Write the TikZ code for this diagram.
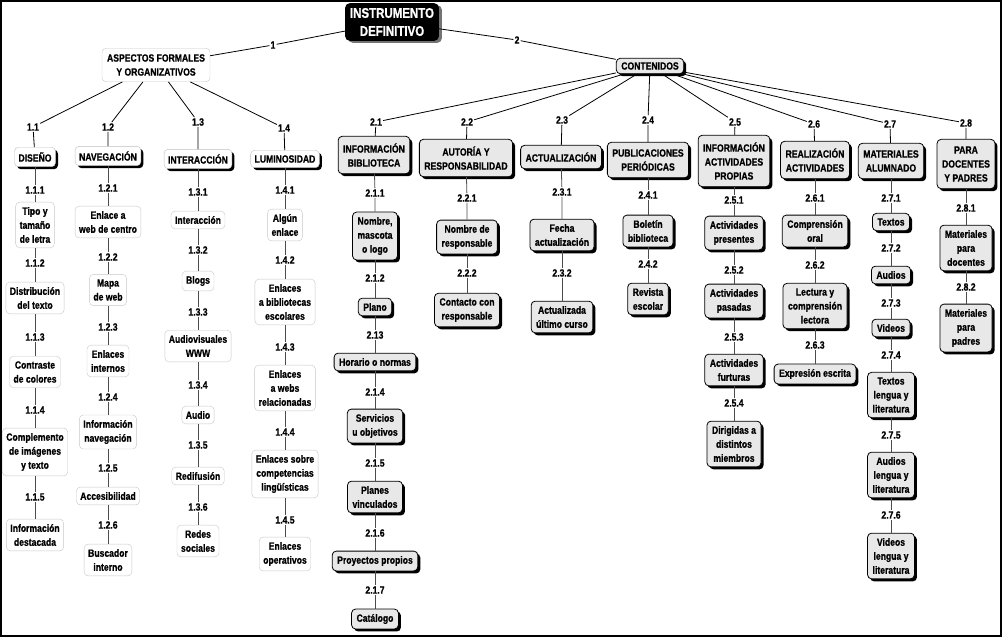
\documentclass[tikz,border=0pt]{standalone}
\usepackage{fontspec}
\newfontfamily\mapfont{Liberation Sans}[FakeStretch=0.82, BoldFeatures={FakeBold=0.8}]
\usepackage{tikz}
\usetikzlibrary{shadows}

\newcommand{\boxfont}{\mapfont\bfseries\fontsize{10.5}{14}\selectfont}
\newcommand{\rootfont}{\mapfont\bfseries\fontsize{14}{18}\selectfont}

\tikzset{
  lab/.style={inner sep=1pt, font=\boxfont},
  ln/.style={draw=black, line width=0.8pt},
  lnv/.style={draw=black!70, line width=0.8pt},
  rootbox/.style={fill=black, text=white, rounded corners=5pt, align=center,
    inner xsep=5pt, inner ysep=5pt, font=\rootfont,
    drop shadow={shadow xshift=3pt, shadow yshift=-2pt, fill=black!55, opacity=1}},
  leaf/.style={draw=black!22, fill=white, rounded corners=4pt, align=center,
    inner xsep=4pt, inner ysep=5pt, font=\boxfont},
  headbox/.style={leaf, draw=black!25,
    drop shadow={shadow xshift=2.5pt, shadow yshift=-2.5pt, fill=black, opacity=1}},
  gbox/.style={draw=black, line width=0.8pt, fill=black!9, rounded corners=4pt,
    align=center, inner xsep=5pt, inner ysep=5pt, font=\boxfont,
    drop shadow={shadow xshift=2.5pt, shadow yshift=-2.5pt, fill=black, opacity=1}},
  ghead/.style={gbox, inner ysep=7pt}
}

\begin{document}
\begin{tikzpicture}[x=1pt, y=-1pt]
\useasboundingbox (0,0) rectangle (1006,638);
\draw[line width=1.4pt] (1,1) rectangle (1001,636);

% top
\node[rootbox] (root) at (392,22) {INSTRUMENTO\\DEFINITIVO};
\node[leaf, inner ysep=6pt, inner xsep=5pt] (asp) at (156,65) {ASPECTOS FORMALES\\Y ORGANIZATIVOS};
\node[gbox, inner ysep=4pt] (cont) at (650,66) {CONTENIDOS};
\node[lab] (k1) at (273,45) {1};
\node[lab] (k2) at (517,40) {2};

% aspectos formales
\node[lab] (k11) at (33,127) {1.1};
\node[lab] (k12) at (108,127) {1.2};
\node[lab] (k13) at (198,122) {1.3};
\node[lab] (k14) at (284,128) {1.4};
\node[headbox] (dis) at (35,157) {DISEÑO};
\node[headbox] (nav) at (108,156) {NAVEGACIÓN};
\node[headbox] (int) at (198,159) {INTERACCIÓN};
\node[headbox] (lum) at (285,159) {LUMINOSIDAD};

\node[lab] (k111) at (35,190) {1.1.1};
\node[leaf] (d1) at (35,225) {Tipo y\\tamaño\\de letra};
\node[lab] (k112) at (35,263) {1.1.2};
\node[leaf] (d2) at (35,298) {Distribución\\del texto};
\node[lab] (k113) at (35,337) {1.1.3};
\node[leaf] (d3) at (35,372) {Contraste\\de colores};
\node[lab] (k114) at (35,410) {1.1.4};
\node[leaf] (d4) at (35,452) {Complemento\\de imágenes\\y texto};
\node[lab] (k115) at (35,497) {1.1.5};
\node[leaf] (d5) at (35,535) {Información\\destacada};

\node[lab] (k121) at (108,188) {1.2.1};
\node[leaf] (n1) at (108,222) {Enlace a\\web de centro};
\node[lab] (k122) at (108,257) {1.2.2};
\node[leaf] (n2) at (108,290) {Mapa\\de web};
\node[lab] (k123) at (108,327) {1.2.3};
\node[leaf] (n3) at (108,361) {Enlaces\\internos};
\node[lab] (k124) at (108,397) {1.2.4};
\node[leaf] (n4) at (108,432) {Información\\navegación};
\node[lab] (k125) at (108,468) {1.2.5};
\node[leaf] (n5) at (108,496) {Accesibilidad};
\node[lab] (k126) at (108,525) {1.2.6};
\node[leaf] (n6) at (108,560) {Buscador\\interno};

\node[lab] (k131) at (198,192) {1.3.1};
\node[leaf] (i1) at (198,220) {Interacción};
\node[lab] (k132) at (198,250) {1.3.2};
\node[leaf] (i2) at (198,281) {Blogs};
\node[lab] (k133) at (198,312) {1.3.3};
\node[leaf] (i3) at (198,346) {Audiovisuales\\WWW};
\node[lab] (k134) at (198,385) {1.3.4};
\node[leaf] (i4) at (198,415) {Audio};
\node[lab] (k135) at (198,445) {1.3.5};
\node[leaf] (i5) at (198,476) {Redifusión};
\node[lab] (k136) at (198,507) {1.3.6};
\node[leaf] (i6) at (198,541) {Redes\\sociales};

\node[lab] (k141) at (285,190) {1.4.1};
\node[leaf] (u1) at (285,225) {Algún\\enlace};
\node[lab] (k142) at (285,260) {1.4.2};
\node[leaf] (u2) at (285,302) {Enlaces\\a bibliotecas\\escolares};
\node[lab] (k143) at (285,347) {1.4.3};
\node[leaf] (u3) at (285,388) {Enlaces\\a webs\\relacionadas};
\node[lab] (k144) at (285,432) {1.4.4};
\node[leaf] (u4) at (285,474) {Enlaces sobre\\competencias\\lingüísticas};
\node[lab] (k145) at (285,520) {1.4.5};
\node[leaf] (u5) at (285,554) {Enlaces\\operativos};

% contenidos
\node[lab] (k21) at (376,122) {2.1};
\node[lab] (k22) at (467,122) {2.2};
\node[lab] (k23) at (562,120) {2.3};
\node[lab] (k24) at (648,120) {2.4};
\node[lab] (k25) at (735,122) {2.5};
\node[lab] (k26) at (814,124) {2.6};
\node[lab] (k27) at (890,124) {2.7};
\node[lab] (k28) at (966,123) {2.8};
\node[ghead] (ib) at (374,155) {INFORMACIÓN\\BIBLIOTECA};
\node[ghead] (ar) at (466,158) {AUTORÍA Y\\RESPONSABILIDAD};
\node[ghead] (ac) at (561,157) {ACTUALIZACIÓN};
\node[ghead] (pp) at (648,160) {PUBLICACIONES\\PERIÓDICAS};
\node[ghead] (ia) at (734,161) {INFORMACIÓN\\ACTIVIDADES\\PROPIAS};
\node[ghead] (ra) at (815,160) {REALIZACIÓN\\ACTIVIDADES};
\node[ghead] (ma) at (891,161) {MATERIALES\\ALUMNADO};
\node[ghead] (pd) at (966,164) {PARA\\DOCENTES\\Y PADRES};

\node[lab] (k211) at (375,193) {2.1.1};
\node[gbox] (ib1) at (375,236) {Nombre,\\mascota\\o logo};
\node[lab] (k212) at (375,278) {2.1.2};
\node[gbox] (ib2) at (375,307) {Plano};
\node[lab] (k213) at (375,335) {2.13};
\node[gbox] (ib3) at (375,362) {Horario o normas};
\node[lab] (k214) at (375,392) {2.1.4};
\node[gbox] (ib4) at (375,426) {Servicios\\u objetivos};
\node[lab] (k215) at (375,463) {2.1.5};
\node[gbox] (ib5) at (375,497) {Planes\\vinculados};
\node[lab] (k216) at (375,533) {2.1.6};
\node[gbox] (ib6) at (375,561) {Proyectos propios};
\node[lab] (k217) at (375,590) {2.1.7};
\node[gbox] (ib7) at (375,619) {Catálogo};

\node[lab] (k221) at (467,198) {2.2.1};
\node[gbox] (ar1) at (467,237) {Nombre de\\responsable};
\node[lab] (k222) at (467,273) {2.2.2};
\node[gbox] (ar2) at (467,310) {Contacto con\\responsable};

\node[lab] (k231) at (562,192) {2.3.1};
\node[gbox] (ac1) at (562,235) {Fecha\\actualización};
\node[lab] (k232) at (562,273) {2.3.2};
\node[gbox] (ac2) at (562,317) {Actualizada\\último curso};

\node[lab] (k241) at (648,195) {2.4.1};
\node[gbox] (pp1) at (648,231) {Boletín\\biblioteca};
\node[lab] (k242) at (648,264) {2.4.2};
\node[gbox] (pp2) at (648,299) {Revista\\escolar};

\node[lab] (k251) at (734,200) {2.5.1};
\node[gbox] (ia1) at (734,233) {Actividades\\presentes};
\node[lab] (k252) at (734,270) {2.5.2};
\node[gbox] (ia2) at (734,301) {Actividades\\pasadas};
\node[lab] (k253) at (734,337) {2.5.3};
\node[gbox] (ia3) at (734,370) {Actividades\\furturas};
\node[lab] (k254) at (734,403) {2.5.4};
\node[gbox] (ia4) at (734,444) {Dirigidas a\\distintos\\miembros};

\node[lab] (k261) at (815,198) {2.6.1};
\node[gbox] (ra1) at (815,231) {Comprensión\\oral};
\node[lab] (k262) at (815,265) {2.6.2};
\node[gbox] (ra2) at (815,306) {Lectura y\\comprensión\\lectora};
\node[lab] (k263) at (815,345) {2.6.3};
\node[gbox] (ra3) at (815,374) {Expresión escrita};

\node[lab] (k271) at (891,198) {2.7.1};
\node[gbox] (ma1) at (891,222) {Textos};
\node[lab] (k272) at (891,248) {2.7.2};
\node[gbox] (ma2) at (891,275) {Audios};
\node[lab] (k273) at (891,303) {2.7.3};
\node[gbox] (ma3) at (891,328) {Videos};
\node[lab] (k274) at (891,355) {2.7.4};
\node[gbox] (ma4) at (891,395) {Textos\\lengua y\\literatura};
\node[lab] (k275) at (891,435) {2.7.5};
\node[gbox] (ma5) at (891,475) {Audios\\lengua y\\literatura};
\node[lab] (k276) at (891,515) {2.7.6};
\node[gbox] (ma6) at (891,556) {Videos\\lengua y\\literatura};

\node[lab] (k281) at (966,208) {2.8.1};
\node[gbox] (pd1) at (966,248) {Materiales\\para\\docentes};
\node[lab] (k282) at (966,287) {2.8.2};
\node[gbox] (pd2) at (966,328) {Materiales\\para\\padres};

% links
\foreach \a/\m/\b in {root/k1/asp, root/k2/cont,
    asp/k11/dis, asp/k12/nav, asp/k13/int, asp/k14/lum,
    cont/k21/ib, cont/k22/ar, cont/k23/ac, cont/k24/pp,
    cont/k25/ia, cont/k26/ra, cont/k27/ma, cont/k28/pd}
  \draw[ln] (\a) -- (\m) -- (\b);

\foreach \a/\m/\b in {dis/k111/d1, d1/k112/d2, d2/k113/d3, d3/k114/d4, d4/k115/d5,
    nav/k121/n1, n1/k122/n2, n2/k123/n3, n3/k124/n4, n4/k125/n5, n5/k126/n6,
    int/k131/i1, i1/k132/i2, i2/k133/i3, i3/k134/i4, i4/k135/i5, i5/k136/i6,
    lum/k141/u1, u1/k142/u2, u2/k143/u3, u3/k144/u4, u4/k145/u5,
    ib/k211/ib1, ib1/k212/ib2, ib2/k213/ib3, ib3/k214/ib4, ib4/k215/ib5,
    ib5/k216/ib6, ib6/k217/ib7,
    ar/k221/ar1, ar1/k222/ar2, ac/k231/ac1, ac1/k232/ac2,
    pp/k241/pp1, pp1/k242/pp2,
    ia/k251/ia1, ia1/k252/ia2, ia2/k253/ia3, ia3/k254/ia4,
    ra/k261/ra1, ra1/k262/ra2, ra2/k263/ra3,
    ma/k271/ma1, ma1/k272/ma2, ma2/k273/ma3, ma3/k274/ma4, ma4/k275/ma5, ma5/k276/ma6,
    pd/k281/pd1, pd1/k282/pd2}
  \draw[lnv] (\a) -- (\m) -- (\b);
\end{tikzpicture}
\end{document}
